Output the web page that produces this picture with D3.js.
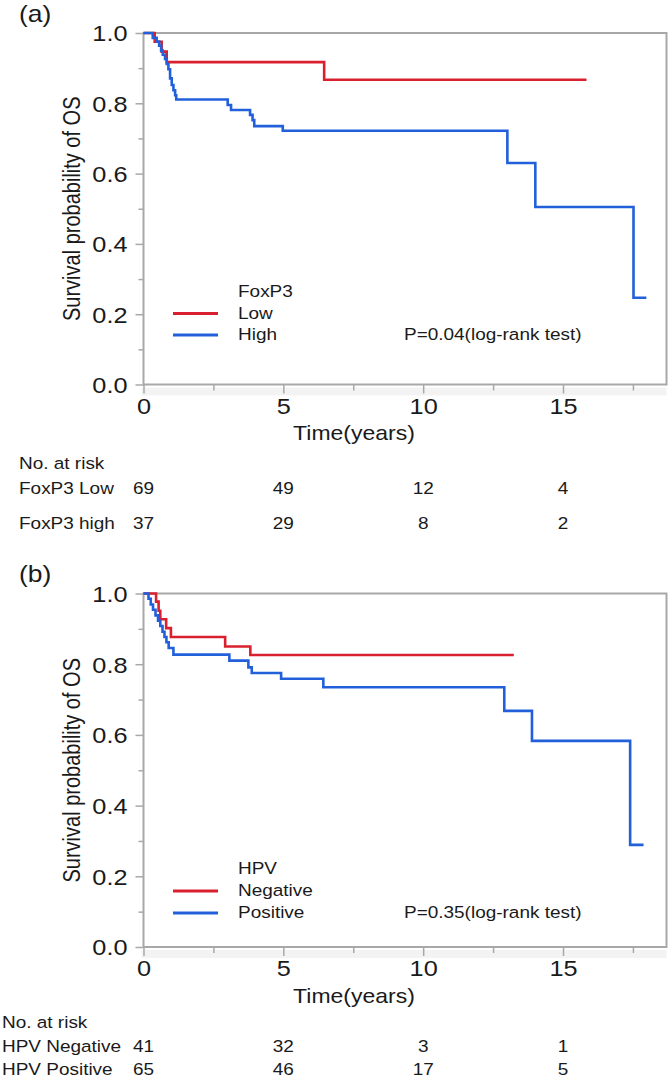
<!DOCTYPE html>
<html><head><meta charset="utf-8">
<script src="https://cdn.jsdelivr.net/npm/d3@7"></script>
<style>html,body{margin:0;padding:0;background:#fff;} svg{display:block;}</style>
</head><body>
<svg id="chart" width="671" height="1091"></svg>
<script>
// ---------- data ----------
const xMajorTicks = [0, 5, 10, 15];
const xMinorTicks = [2.5, 7.5, 12.5, 17.5];
const yMajorTicks = [0, 0.2, 0.4, 0.6, 0.8, 1.0];
const yMinorTicks = [0.1, 0.3, 0.5, 0.7, 0.9];
const riskTimes = [0, 5, 10, 15];

// Panel (a) FoxP3
const aLowTime = [0, 0.40, 0.65, 0.83, 6.46];
const aLowSurv = [1.0, 0.975, 0.947, 0.917, 0.867];
const aLowEnd = 15.84;
const aHighTime = [0, 0.33, 0.47, 0.56, 0.63, 0.69, 0.77, 0.83, 0.89, 0.95, 1.01, 1.07, 1.13, 1.17, 3.01, 3.13, 3.81, 3.90, 3.96, 4.98, 13.01, 14.01, 17.52];
const aHighSurv = [1.0, 0.986, 0.976, 0.964, 0.950, 0.938, 0.926, 0.912, 0.897, 0.871, 0.852, 0.837, 0.823, 0.811, 0.795, 0.781, 0.767, 0.752, 0.735, 0.722, 0.630, 0.505, 0.247];
const aHighEnd = 17.98;
const aRiskLow = [69, 49, 12, 4];
const aRiskHigh = [37, 29, 8, 2];

// Panel (b) HPV
const bNegTime = [0, 0.45, 0.54, 0.60, 0.81, 0.98, 2.92, 3.82];
const bNegSurv = [1.0, 0.977, 0.951, 0.927, 0.902, 0.877, 0.850, 0.826];
const bNegEnd = 13.24;
const bPosTime = [0, 0.18, 0.26, 0.34, 0.43, 0.52, 0.60, 0.68, 0.75, 0.82, 0.90, 1.07, 3.07, 3.75, 3.87, 4.92, 6.43, 12.90, 13.89, 17.40];
const bPosSurv = [1.0, 0.985, 0.969, 0.954, 0.938, 0.923, 0.908, 0.892, 0.877, 0.862, 0.846, 0.827, 0.810, 0.791, 0.775, 0.759, 0.735, 0.668, 0.583, 0.289];
const bPosEnd = 17.88;
const bRiskNeg = [41, 32, 3, 1];
const bRiskPos = [65, 46, 17, 5];

// ---------- drawing ----------
const RED = "#d9202f", BLUE = "#2260db", FRAME = "#a8a8a8", TXT = "#1a1a1a";
const FONT = "'Liberation Sans', Arial, Helvetica, sans-serif";
const SX = 1.15;
const svg = d3.select("#chart");
const x = d3.scaleLinear().domain([0, 18.7]).range([143.5, 666.5]);

function txt(g, px, py, s, size, anchor, rot) {
  return g.append("text")
    .attr("transform", `translate(${px},${py}) scale(${SX},1)` + (rot ? ` rotate(${rot})` : ""))
    .attr("text-anchor", anchor || "start")
    .attr("font-family", FONT).attr("font-size", size).attr("fill", TXT)
    .text(s);
}

function drawPanel(c) {
  const g = svg.append("g");
  const y = d3.scaleLinear().domain([0, 1]).range([c.bottom, c.top]);
  const x0 = x.range()[0], x1 = x.range()[1];

  g.append("rect").attr("x", x0 - 2).attr("y", c.bottom + 3).attr("width", x1 - x0 + 2).attr("height", 8).attr("fill", "#f3f3f3");

  g.append("g").attr("transform", `translate(${x0},0)`)
    .call(d3.axisLeft(y).tickValues(yMinorTicks).tickSize(5).tickFormat(""))
    .call(s => s.select(".domain").remove())
    .call(s => s.selectAll("line").attr("stroke", FRAME).attr("stroke-width", 1.5));
  g.append("g").attr("transform", `translate(0,${c.bottom})`)
    .call(d3.axisBottom(x).tickValues(xMinorTicks).tickSize(6).tickFormat(""))
    .call(s => s.select(".domain").remove())
    .call(s => s.selectAll("line").attr("stroke", FRAME).attr("stroke-width", 1.5));

  g.append("g").attr("transform", `translate(${x0},0)`)
    .call(d3.axisLeft(y).tickValues(yMajorTicks).tickSize(8).tickFormat(d3.format(".1f")))
    .call(s => s.select(".domain").remove())
    .call(s => s.selectAll("line").attr("stroke", FRAME).attr("stroke-width", 1.5))
    .call(s => s.selectAll("text").attr("x", null).attr("dy", "0.36em")
      .attr("transform", `translate(-16,0) scale(${SX},1)`)
      .attr("font-family", FONT).attr("font-size", 22).attr("fill", TXT));
  g.append("g").attr("transform", `translate(0,${c.bottom})`)
    .call(d3.axisBottom(x).tickValues(xMajorTicks).tickSize(9).tickFormat(d3.format("d")))
    .call(s => s.select(".domain").remove())
    .call(s => s.selectAll("line").attr("stroke", FRAME).attr("stroke-width", 1.5))
    .call(s => s.selectAll("text").attr("y", null).attr("dy", null)
      .attr("transform", `translate(0,29) scale(${SX},1)`)
      .attr("font-family", FONT).attr("font-size", 22).attr("fill", TXT));

  g.append("rect").attr("x", x0).attr("y", c.top).attr("width", x1 - x0).attr("height", c.bottom - c.top)
    .attr("fill", "none").attr("stroke", FRAME).attr("stroke-width", 2);

  const line = d3.line().x(d => x(d[0])).y(d => y(d[1])).curve(d3.curveStepAfter);
  c.series.forEach(s => {
    const pts = s.time.map((t, i) => [t, s.surv[i]]);
    pts.push([s.end, s.surv[s.surv.length - 1]]);
    g.append("path").datum(pts).attr("d", line).attr("fill", "none")
      .attr("stroke", s.color).attr("stroke-width", 2.6).attr("stroke-linejoin", "miter");
  });

  txt(g, 238, c.legBase[0], c.legTitle, 16.5);
  c.series.forEach((s, i) => {
    g.append("line").attr("x1", 173).attr("x2", 218)
      .attr("y1", c.legBase[i + 1] - 5).attr("y2", c.legBase[i + 1] - 5)
      .attr("stroke", s.color).attr("stroke-width", 3);
    txt(g, 238, c.legBase[i + 1], s.name, 16.5);
  });
  txt(g, 404, c.legBase[2], c.pText, 16.5);

  txt(g, 19, c.top - 11.4, c.label, 23);
  txt(g, 80, (c.top + c.bottom) / 2, "Survival probability of OS", 20, "middle", -90);
  txt(g, 354, c.bottom + c.titleOff, "Time(years)", 20, "middle");

  txt(g, c.riskLabelX, c.riskBase[0], "No. at risk", 16.5);
  c.series.forEach((s, i) => {
    txt(g, c.riskLabelX, c.riskBase[i + 1], s.riskName, 16.5);
    s.risk.forEach((v, j) => txt(g, x(riskTimes[j]), c.riskBase[i + 1], String(v), 16.5, "middle"));
  });
}

drawPanel({
  top: 33, bottom: 384.5, label: "(a)", titleOff: 55,
  legTitle: "FoxP3", legBase: [297, 318.5, 340], pText: "P=0.04(log-rank test)",
  riskBase: [468.5, 494, 528.5], riskLabelX: 19,
  series: [
    {time: aLowTime, surv: aLowSurv, end: aLowEnd, color: RED, name: "Low", riskName: "FoxP3 Low", risk: aRiskLow},
    {time: aHighTime, surv: aHighSurv, end: aHighEnd, color: BLUE, name: "High", riskName: "FoxP3 high", risk: aRiskHigh}
  ]
});
drawPanel({
  top: 593.5, bottom: 947, label: "(b)", titleOff: 56,
  legTitle: "HPV", legBase: [874, 896, 918], pText: "P=0.35(log-rank test)",
  riskBase: [1027.5, 1051.5, 1075], riskLabelX: 2,
  series: [
    {time: bNegTime, surv: bNegSurv, end: bNegEnd, color: RED, name: "Negative", riskName: "HPV Negative", risk: bRiskNeg},
    {time: bPosTime, surv: bPosSurv, end: bPosEnd, color: BLUE, name: "Positive", riskName: "HPV Positive", risk: bRiskPos}
  ]
});
</script>
</body></html>
